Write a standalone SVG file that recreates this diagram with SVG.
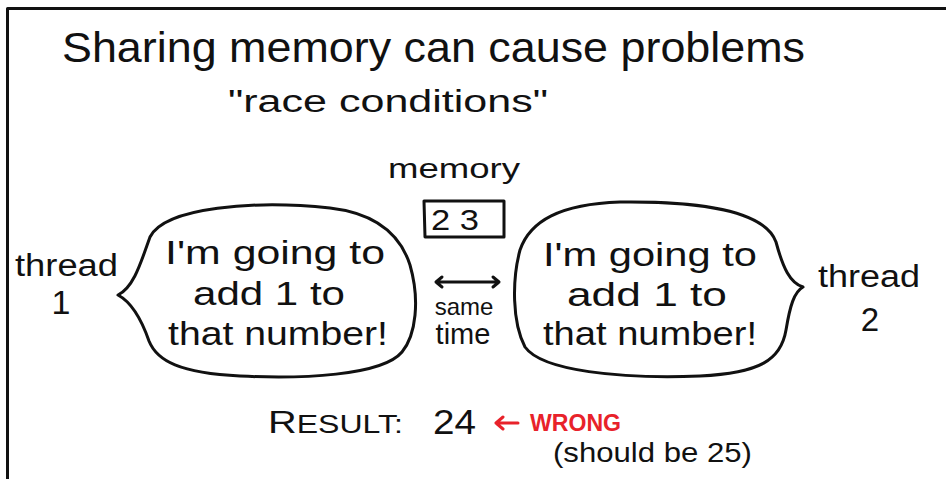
<svg xmlns="http://www.w3.org/2000/svg" width="946" height="479" viewBox="0 0 946 479">
<style>
text{font-family:"Liberation Sans","DejaVu Sans",sans-serif;fill:#111;}
.line{fill:none;stroke:#111;stroke-width:3;stroke-linecap:round;stroke-linejoin:round;}
.red{fill:#e8222a;}
.redline{fill:none;stroke:#e8222a;stroke-width:3;stroke-linecap:round;stroke-linejoin:round;}
.bub{font-size:33px;}
</style>
<path class="line" d="M7.5,479 V8.5 H946" stroke-width="3.5"/>
<g id="title">
<text x="62" y="62" font-size="43" textLength="743" lengthAdjust="spacingAndGlyphs">Sharing memory can cause problems</text>
<text x="228" y="112" font-size="31" textLength="320" lengthAdjust="spacingAndGlyphs">"race conditions"</text>
</g>
<g id="memory">
<text x="388" y="178" font-size="28" textLength="132" lengthAdjust="spacingAndGlyphs">memory</text>
<path class="line" d="M424,201 H504 V237 H425 Z"/>
<text x="431" y="230" font-size="29" textLength="48" lengthAdjust="spacingAndGlyphs">2 3</text>
</g>
<g id="bubble1">
<path class="line" d="M118,295 C134,287 141,262 150,237 C165,207 255,200 330,208 C382,214 402,240 410,265 C420,300 416,335 402,352 C382,376 300,379 240,376 C180,373 157,361 149,341 C141,318 131,302 118,295 Z"/>
<text class="bub" x="165" y="264" textLength="220" lengthAdjust="spacingAndGlyphs">I'm going to</text>
<text class="bub" x="193" y="305" textLength="152" lengthAdjust="spacingAndGlyphs">add 1 to</text>
<text class="bub" x="168" y="345" textLength="220" lengthAdjust="spacingAndGlyphs">that number!</text>
</g>
<g id="bubble2">
<path class="line" d="M803,287 C790,283 783,268 776,242 C765,211 700,201 620,202 C560,204 530,221 520,250 C512,280 512,322 525,347 C542,371 620,379 700,376 C760,373 781,360 786,330 C790,306 794,292 803,287 Z"/>
<text class="bub" x="543" y="266" textLength="214" lengthAdjust="spacingAndGlyphs">I'm going to</text>
<text class="bub" x="567" y="306" textLength="160" lengthAdjust="spacingAndGlyphs">add 1 to</text>
<text class="bub" x="543" y="345" textLength="214" lengthAdjust="spacingAndGlyphs">that number!</text>
</g>
<g id="thread1">
<text x="15" y="276" font-size="31" textLength="103" lengthAdjust="spacingAndGlyphs">thread</text>
<text x="61" y="314" font-size="34" text-anchor="middle">1</text>
</g>
<g id="thread2">
<text x="818" y="287" font-size="31" textLength="102" lengthAdjust="spacingAndGlyphs">thread</text>
<text x="870" y="331" font-size="33" text-anchor="middle">2</text>
</g>
<g id="sametime">
<path class="line" d="M436,282 H499 M442,277 L436,282 L442,287 M493,277 L499,282 L493,287" stroke-width="2.5"/>
<text x="464" y="315" font-size="24" text-anchor="middle">same</text>
<text x="463" y="344" font-size="29" text-anchor="middle">time</text>
</g>
<g id="result">
<text x="268" y="433" font-size="25" textLength="135" lengthAdjust="spacingAndGlyphs"><tspan font-size="31">R</tspan>ESULT:</text>
<text x="433" y="434" font-size="35" textLength="43" lengthAdjust="spacingAndGlyphs">24</text>
<path class="redline" d="M518,423 H496 M503,417 L496,423 L503,429" stroke-width="2.5"/>
<text class="red" x="530" y="431" font-size="23" font-weight="bold" textLength="91" lengthAdjust="spacingAndGlyphs">WRONG</text>
<text x="553" y="462" font-size="28" textLength="199" lengthAdjust="spacingAndGlyphs">(should be 25)</text>
</g>
</svg>
